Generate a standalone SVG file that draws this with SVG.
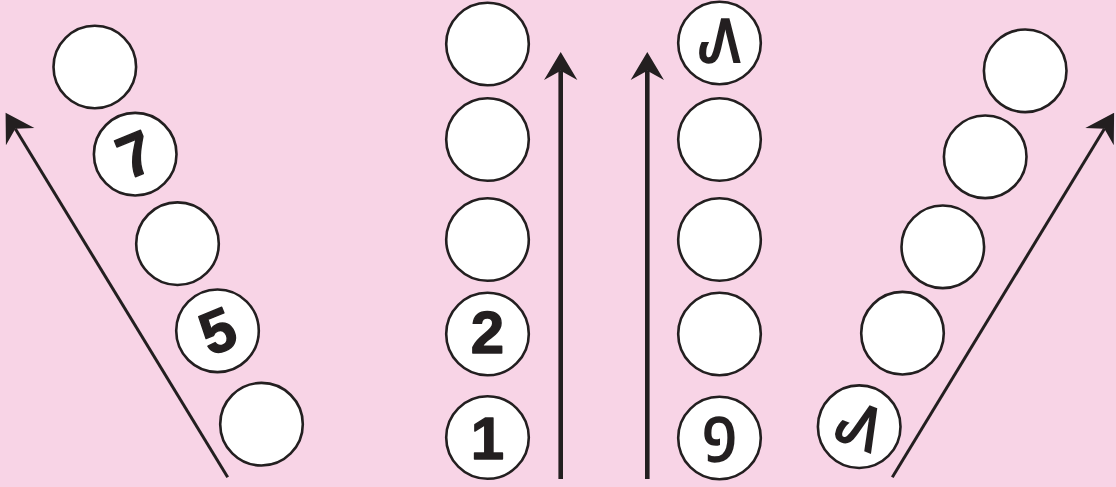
<svg xmlns="http://www.w3.org/2000/svg" width="1116" height="487" viewBox="0 0 1116 487">
<style>
.c{fill:#fff;stroke:#231f20;stroke-width:2.6}
.n{font-family:"Liberation Sans",Arial,sans-serif;font-weight:bold;font-size:60px;fill:#231f20;stroke:#231f20;stroke-width:1.4;stroke-linejoin:round;text-anchor:middle}
.m{font-family:"Noto Sans Mongolian","DejaVu Sans",sans-serif;font-size:60px;font-weight:bold;fill:#231f20;text-anchor:middle}
.a{fill:none;stroke:#231f20}
</style>
<defs>
<marker id="ah" markerUnits="userSpaceOnUse" markerWidth="40" markerHeight="40" viewBox="-10 -15 30 30" refX="0" refY="0" orient="auto">
<path d="M14,0 L-7,-12.5 L0,0 L-7,12.5 Z" fill="#231f20"/>
</marker>
</defs>
<rect width="1116" height="487" fill="#f8d4e6"/>
<g id="connectors">
<line class="a" x1="227.7" y1="477.3" x2="15.3" y2="128.7" stroke-width="3" marker-end="url(#ah)"/>
<line class="a" x1="560.7" y1="479" x2="560.7" y2="70.7" stroke-width="4.6" marker-end="url(#ah)"/>
<line class="a" x1="647.3" y1="479" x2="647.3" y2="70.7" stroke-width="4.6" marker-end="url(#ah)"/>
<line class="a" x1="892.3" y1="477.3" x2="1104.4" y2="128.7" stroke-width="3" marker-end="url(#ah)"/>
</g>
<g id="col1">
<g id="c1-5"><circle class="c" cx="94.8" cy="67" r="41.3"/></g>
<g id="c1-4"><circle class="c" cx="135.2" cy="154.2" r="41.3"/><text class="n" transform="translate(135.2,154.2) rotate(-22)" x="0" y="21">7</text></g>
<g id="c1-3"><circle class="c" cx="177.5" cy="243.7" r="41.3"/></g>
<g id="c1-2"><circle class="c" cx="217.5" cy="330.8" r="41.3"/><text class="n" transform="translate(217.5,330.8) rotate(-22)" x="0" y="21">5</text></g>
<g id="c1-1"><circle class="c" cx="261.5" cy="424.2" r="41.3"/></g>
</g>
<g id="col2">
<g id="c2-5"><circle class="c" cx="487.5" cy="44" r="41.3"/></g>
<g id="c2-4"><circle class="c" cx="487.5" cy="139.5" r="41.3"/></g>
<g id="c2-3"><circle class="c" cx="487.5" cy="239.5" r="41.3"/></g>
<g id="c2-2"><circle class="c" cx="487.5" cy="334" r="41.3"/><text class="n" x="487.5" y="353">2</text></g>
<g id="c2-1"><circle class="c" cx="487.5" cy="437.5" r="41.3"/><text class="n" x="487.5" y="459">1</text></g>
</g>
<g id="col3">
<g id="c3-5"><circle class="c" cx="719.5" cy="43" r="41.3"/><text class="m" x="719.5" y="62">᠕</text></g>
<g id="c3-4"><circle class="c" cx="719.5" cy="139.5" r="41.3"/></g>
<g id="c3-3"><circle class="c" cx="719.5" cy="239.5" r="41.3"/></g>
<g id="c3-2"><circle class="c" cx="719.5" cy="334" r="41.3"/></g>
<g id="c3-1"><circle class="c" cx="719.5" cy="438" r="41.3"/><text class="m" x="719.5" y="461">᠑</text></g>
</g>
<g id="col4">
<g id="c4-5"><circle class="c" cx="1025.2" cy="70.8" r="41.3"/></g>
<g id="c4-4"><circle class="c" cx="985.2" cy="156.8" r="41.3"/></g>
<g id="c4-3"><circle class="c" cx="942.8" cy="246.8" r="41.3"/></g>
<g id="c4-2"><circle class="c" cx="902.5" cy="333.2" r="41.3"/></g>
<g id="c4-1"><circle class="c" cx="859.2" cy="426.7" r="41.3"/><text class="m" transform="translate(859.2,426.7) rotate(22)" x="0" y="20">᠕</text></g>
</g>
</svg>
